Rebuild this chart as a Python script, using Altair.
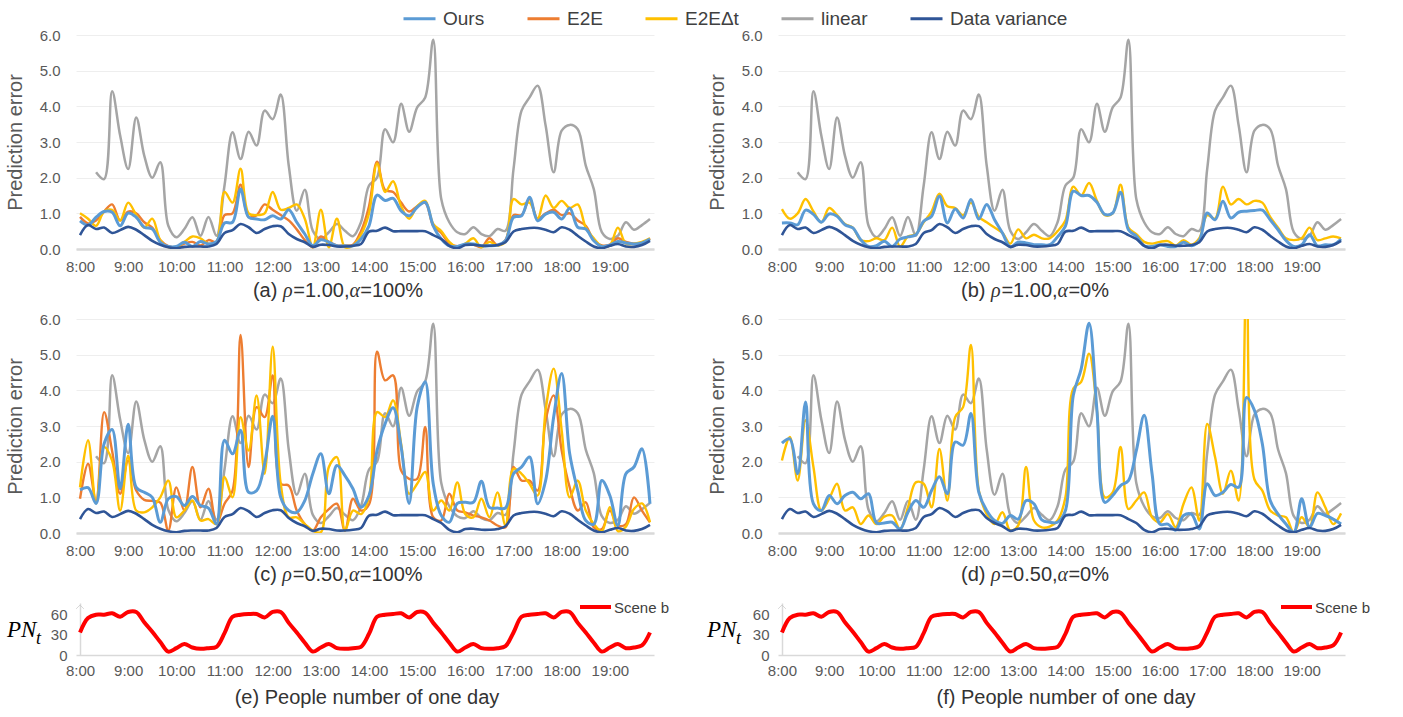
import altair as alt
import pandas as pd

# ---------------------------------------------------------------- data ----
# sample times: minutes after 8:00, every 10 minutes up to 19:50
minutes = list(range(0, 720, 10))
hour_ticks = list(range(0, 720, 60))

# shared by all four error panels
linear = [None, None, 2.15, 1.96, 4.42, 3.18, 2.24, 3.69, 2.62, 2.0, 2.43, 0.65,
          0.33, 0.56, 0.89, 0.37, 0.9, 0.37, 1.78, 3.27, 2.52, 3.29, 2.9, 3.88,
          3.64, 4.33, 2.34, 1.07, 1.66, 0.51, 0.28, 0.47, 0.7, 0.51, 0.36, 0.75,
          1.78, 2.0, 3.36, 2.99, 4.07, 3.29, 3.97, 4.25, 5.87, 1.4, 0.75, 0.47,
          0.42, 0.61, 0.42, 0.36, 0.56, 0.51, 2.24, 3.88, 4.25, 4.58, 3.46, 2.15,
          3.32, 3.48, 3.36, 2.34, 1.68, 0.47, 0.28, 0.37, 0.75, 0.54, 0.67, 0.84]
variance = [0.39, 0.67, 0.56, 0.6, 0.45, 0.53, 0.62, 0.54, 0.39, 0.23, 0.12, 0.05,
            0.02, 0.06, 0.07, 0.07, 0.07, 0.14, 0.45, 0.53, 0.7, 0.61, 0.45, 0.56,
            0.64, 0.64, 0.42, 0.28, 0.19, 0.06, 0.12, 0.11, 0.07, 0.07, 0.09, 0.14,
            0.49, 0.51, 0.6, 0.5, 0.5, 0.5, 0.5, 0.5, 0.39, 0.28, 0.09, 0.02,
            0.11, 0.12, 0.09, 0.09, 0.11, 0.19, 0.49, 0.56, 0.59, 0.59, 0.54, 0.47,
            0.61, 0.54, 0.37, 0.21, 0.07, 0.02, 0.09, 0.14, 0.07, 0.06, 0.11, 0.23]

# (a) rho = 1.00, alpha = 100%
ours_a = [0.79, 0.67, 0.89, 1.05, 1.03, 0.65, 1.01, 0.89, 0.61, 0.56, 0.19, 0.07,
          0.07, 0.19, 0.07, 0.21, 0.14, 0.21, 0.73, 0.75, 1.68, 0.89, 0.84, 0.82,
          0.93, 0.84, 1.1, 0.75, 0.42, 0.09, 0.26, 0.19, 0.09, 0.09, 0.09, 0.28,
          0.65, 1.51, 1.36, 1.42, 1.07, 0.93, 1.17, 1.31, 0.65, 0.28, 0.09, 0.07,
          0.14, 0.14, 0.09, 0.09, 0.11, 0.23, 0.89, 0.93, 1.45, 0.79, 0.98, 1.03,
          0.84, 1.14, 0.61, 0.56, 0.23, 0.07, 0.11, 0.21, 0.17, 0.14, 0.17, 0.28]
e2e_a = [0.9, 0.72, 0.8, 1.05, 1.25, 0.8, 1.05, 1.0, 0.75, 0.6, 0.25, 0.08,
         0.05, 0.15, 0.2, 0.1, 0.25, 0.2, 0.95, 1.0, 1.8, 0.9, 0.95, 1.25,
         1.1, 0.95, 0.8, 0.55, 0.25, 0.05, 0.35, 0.2, 0.1, 0.1, 0.12, 0.5,
         1.2, 2.45, 1.65, 1.6, 1.3, 1.05, 1.2, 1.3, 0.65, 0.45, 0.15, 0.08,
         0.12, 0.12, 0.05, 0.3, 0.1, 0.25, 0.95, 0.95, 1.4, 0.85, 1.0, 1.1,
         0.95, 1.0, 0.8, 0.65, 0.25, 0.1, 0.12, 0.3, 0.2, 0.15, 0.15, 0.3]
e2edt_a = [1.0, 0.85, 0.65, 1.05, 1.1, 0.8, 1.3, 0.95, 0.6, 0.85, 0.25, 0.05,
           0.05, 0.2, 0.35, 0.3, 0.15, 0.2, 1.6, 1.3, 2.25, 1.0, 0.95, 1.0,
           1.6, 1.1, 1.15, 1.25, 0.85, 0.05, 1.1, 0.05, 0.85, 0.05, 0.1, 0.4,
           1.0, 2.4, 1.6, 1.9, 1.2, 0.85, 1.2, 1.35, 0.7, 0.5, 0.2, 0.05,
           0.15, 0.3, 0.05, 0.2, 0.1, 0.2, 1.4, 1.25, 1.3, 0.85, 1.5, 1.15,
           1.35, 1.15, 1.25, 0.6, 0.3, 0.08, 0.1, 0.6, 0.15, 0.15, 0.2, 0.3]

# (b) rho = 1.00, alpha = 0%
ours_b = [0.73, 0.73, 0.68, 1.09, 0.97, 0.75, 0.98, 0.92, 0.68, 0.59, 0.26, 0.07,
          0.09, 0.22, 0.07, 0.28, 0.34, 0.4, 0.78, 0.92, 1.48, 0.73, 1.12, 0.87,
          1.39, 0.84, 1.25, 0.82, 0.45, 0.06, 0.19, 0.17, 0.12, 0.12, 0.12, 0.34,
          0.64, 1.62, 1.5, 1.5, 1.31, 0.97, 1.01, 1.59, 0.54, 0.36, 0.09, 0.07,
          0.12, 0.07, 0.07, 0.19, 0.09, 0.24, 1.01, 0.82, 1.34, 0.87, 1.03, 1.06,
          1.08, 1.09, 0.82, 0.54, 0.24, 0.07, 0.12, 0.4, 0.09, 0.12, 0.12, 0.28]
e2edt_b = [1.12, 0.85, 1.0, 1.4, 1.05, 0.75, 1.15, 0.95, 0.7, 0.6, 0.25, 0.22,
           0.3, 0.25, 0.6, 0.07, 0.35, 0.42, 0.75, 1.05, 1.55, 1.2, 1.15, 0.95,
           1.3, 0.9, 0.75, 0.6, 0.45, 0.15, 0.55, 0.3, 0.4, 0.3, 0.3, 0.5,
           0.8, 1.75, 1.5, 1.85, 1.35, 0.95, 1.0, 1.8, 0.6, 0.42, 0.2, 0.15,
           0.2, 0.22, 0.1, 0.25, 0.12, 0.3, 0.95, 0.85, 1.75, 1.25, 1.4, 1.25,
           1.35, 1.3, 0.9, 0.6, 0.3, 0.25, 0.3, 0.6, 0.25, 0.3, 0.35, 0.3]

# (c) rho = 0.50, alpha = 100%
ours_c = [1.21, 1.27, 0.83, 2.5, 2.9, 1.24, 3.05, 1.28, 1.14, 1.0, 0.3, 0.96,
          1.02, 0.77, 1.02, 0.77, 0.7, 0.25, 2.6, 2.22, 2.88, 1.14, 1.19, 1.94,
          3.27, 1.0, 0.63, 0.58, 0.91, 1.66, 2.22, 1.1, 1.89, 1.61, 1.24, 0.72,
          1.05, 2.31, 3.06, 3.51, 2.41, 0.83, 3.53, 4.24, 1.38, 0.49, 0.3, 0.83,
          0.86, 0.86, 1.45, 0.72, 0.7, 0.7, 1.66, 1.85, 2.13, 0.82, 1.47, 3.25,
          4.47, 2.22, 1.19, 0.35, 0.25, 1.47, 1.05, 0.21, 1.66, 1.85, 2.36, 0.82]
e2e_c = [0.96, 1.94, 0.9, 3.39, 2.3, 1.1, 2.03, 1.19, 0.93, 0.9, 0.85, 0.07,
         1.28, 0.63, 1.85, 0.72, 1.24, 0.25, 0.82, 1.19, 5.55, 1.85, 3.53, 3.25,
         4.42, 1.38, 1.33, 0.63, 0.25, 0.07, 0.44, 0.67, 0.82, 0.07, 0.96, 0.63,
         0.8, 5.08, 4.28, 4.42, 1.75, 1.52, 1.52, 2.97, 0.44, 0.35, 1.1, 0.63,
         0.58, 0.49, 0.44, 0.35, 0.21, 0.16, 1.85, 1.47, 1.47, 1.19, 3.16, 3.86,
         2.31, 1.28, 0.63, 0.86, 0.16, 0.11, 0.63, 0.21, 0.25, 1.0, 0.63, 0.3]
e2edt_c = [1.28, 2.6, 0.83, 2.41, 2.03, 0.63, 2.17, 0.63, 0.58, 0.72, 1.0, 1.47,
           0.44, 0.63, 0.91, 0.35, 0.39, 0.25, 1.57, 1.0, 3.25, 2.31, 3.86, 1.66,
           5.22, 1.38, 0.44, 0.44, 0.25, 0.07, 0.02, 1.85, 2.13, 0.07, 0.63, 0.53,
           1.0, 3.39, 3.25, 3.72, 2.5, 1.1, 1.38, 1.71, 0.63, 0.91, 0.63, 1.42,
           0.53, 0.44, 0.96, 0.44, 1.14, 0.21, 1.8, 1.66, 1.38, 1.05, 3.44, 4.61,
           2.88, 1.0, 1.47, 0.63, 0.25, 0.05, 0.72, 0.05, 0.18, 0.67, 0.83, 0.3]

# (d) rho = 0.50, alpha = 0%
ours_d = [2.52, 2.64, 1.66, 3.67, 0.82, 0.63, 1.05, 0.82, 1.05, 1.14, 0.96, 1.1,
          0.28, 0.28, 0.3, 0.11, 0.58, 0.91, 0.72, 1.19, 1.58, 1.1, 2.55, 2.46,
          3.35, 1.14, 0.63, 0.35, 0.27, 0.49, 0.39, 0.91, 0.82, 0.37, 0.3, 0.3,
          0.63, 3.86, 4.6, 5.88, 3.44, 0.86, 1.05, 1.33, 1.47, 2.31, 3.3, 1.66,
          0.25, 0.25, 0.08, 0.49, 0.53, 0.11, 1.38, 1.05, 1.14, 1.36, 1.28, 3.8,
          3.44, 2.5, 0.91, 0.53, 0.25, 0.02, 0.96, 0.16, 0.55, 0.49, 0.39, 0.25]
e2edt_d = [2.03, 2.69, 1.47, 3.16, 1.85, 0.63, 0.96, 1.38, 0.63, 0.72, 0.25, 0.49,
           0.25, 0.46, 0.49, 0.11, 0.72, 1.42, 1.38, 0.72, 2.36, 0.91, 3.25, 3.53,
           5.27, 1.19, 0.53, 0.25, 0.58, 0.07, 0.21, 1.85, 0.35, 0.16, 0.18, 0.35,
           1.0, 4.05, 4.24, 5.03, 3.44, 1.0, 1.14, 2.41, 0.67, 0.91, 1.14, 0.44,
           0.3, 0.53, 0.16, 0.82, 1.28, 0.35, 3.06, 2.13, 1.1, 1.75, 0.91, 7.2,
           1.5, 1.19, 0.63, 0.49, 0.44, 0.02, 0.44, 0.16, 1.14, 0.72, 0.25, 0.55]

# people number PN_t over the day (scene b)
pn_scene_b = [33, 54, 59, 59, 61, 56, 63, 63, 48, 34, 19, 5, 10, 16, 11, 9, 10, 12,
              32, 56, 59, 60, 60, 55, 63, 63, 47, 33, 18, 5, 11, 16, 10, 9, 10, 12,
              31, 56, 59, 60, 61, 55, 63, 62, 47, 33, 18, 5, 11, 16, 10, 9, 10, 13,
              33, 56, 59, 60, 61, 55, 63, 63, 47, 33, 18, 5, 11, 16, 10, 11, 14, 33]

SERIES = ["Ours", "E2E", "E2EΔt", "linear", "Data variance"]
COLORS = ["#5B9BD5", "#ED7D31", "#FFC000", "#A5A5A5", "#2F5597"]
DRAW_ORDER = ["linear", "E2E", "E2EΔt", "Ours", "Data variance"]
STROKE = {"linear": 2.5, "E2E": 2.4, "E2EΔt": 2.4, "Ours": 3.0, "Data variance": 2.6}

# ------------------------------------------------------------- styling ----
FONT = "Liberation Sans"
SERIF = "Liberation Serif"
AXIS_GREY = "#595959"
LINE_GREY = "#D9D9D9"
TEXT_DARK = "#333333"
LEFT_W, RIGHT_W = 578, 567
PANEL_H = 214
PN_H = 52            # people panel; its value axis tops out a little above 70
PN_TOP = 76.1
PN_SHIFT = 4         # pixels between the panel top and the level of value 70
X_DOMAIN = [-5, 715]
HOUR_LABEL = "(floor(datum.value / 60) + 8) + ':00'"

# advance widths (per 1000 em) of Liberation Sans, used to lay out captions
ADV = {" ": 278, "(": 333, ")": 333, "%": 889, ",": 278, ".": 278, "=": 584,
       "a": 556, "b": 556, "c": 500, "d": 556, "e": 556, "f": 278, "l": 222,
       "m": 833, "n": 556, "o": 556, "p": 556, "r": 333, "u": 556, "y": 500,
       "P": 667, "S": 667, "ρ": 520, "α": 540}
ONE = pd.DataFrame({"k": [0]})


def text_width(s, size):
    return sum(ADV.get(ch, 556) for ch in s) * size / 1000.0


def caption(parts, cx, cy, size=20):
    """Caption made of upright text runs and italic Greek symbols."""
    widths = [text_width(t, size) for t, _ in parts]
    x = cx - sum(widths) / 2.0
    layers = []
    for (t, italic), w in zip(parts, widths):
        layers.append(
            alt.Chart(ONE).mark_text(
                text=t, align="left", baseline="middle", fontSize=size,
                font=SERIF if italic else FONT,
                fontStyle="italic" if italic else "normal", color=TEXT_DARK,
            ).encode(x=alt.value(x), y=alt.value(cy))
        )
        x += w
    return layers


legend = alt.Legend(
    orient="none", legendX=326, legendY=-34, direction="horizontal", columns=5,
    title=None, symbolType="stroke", symbolSize=1024, symbolStrokeWidth=3,
    labelFontSize=19, labelFont=FONT, labelColor="#404040", labelOffset=6,
    columnPadding=36, padding=0, labelLimit=400,
)
color_enc = alt.Color("series:N", scale=alt.Scale(domain=SERIES, range=COLORS),
                      legend=legend)

x_err = alt.X("minute:Q", scale=alt.Scale(domain=X_DOMAIN, nice=False, zero=False),
              axis=alt.Axis(values=hour_ticks, labelExpr=HOUR_LABEL, title=None,
                            grid=False, ticks=False, domain=True,
                            domainColor=LINE_GREY, domainWidth=2.5, labelPadding=10,
                            labelFontSize=15, labelColor=AXIS_GREY, labelFont=FONT))
y_err = alt.Y("value:Q", scale=alt.Scale(domain=[0, 6], nice=False),
              axis=alt.Axis(values=[0, 1, 2, 3, 4, 5, 6], format=".1f",
                            title="Prediction error", titleFontSize=20,
                            titleFontWeight="normal", titleColor=AXIS_GREY,
                            titleFont=FONT, titlePadding=14, grid=True,
                            gridColor="#EEEEEE", domain=False, ticks=False,
                            labelPadding=16, minExtent=37, maxExtent=37,
                            labelFontSize=15, labelColor=AXIS_GREY, labelFont=FONT))


def error_panel(series, width, cap_parts, cap_cx):
    rows = []
    for name in DRAW_ORDER:
        if name not in series:
            continue
        for m, v in zip(minutes, series[name]):
            if v is not None:
                rows.append({"minute": m, "series": name, "value": v})
    df = pd.DataFrame(rows)
    layers = []
    for name in DRAW_ORDER:
        if name not in series:
            continue
        layers.append(
            alt.Chart(df).transform_filter(alt.datum.series == name)
            .mark_line(interpolate="catmull-rom", strokeWidth=STROKE[name], clip=True)
            .encode(x=x_err, y=y_err, color=color_enc)
        )
    layers += caption(cap_parts, cap_cx, PANEL_H + 42)
    return alt.layer(*layers).properties(width=width, height=PANEL_H)


def people_panel(width, cap_text, cap_cx, pn_x, key_x):
    df = pd.DataFrame({"minute": minutes, "people": pn_scene_b})
    x = alt.X("minute:Q", scale=alt.Scale(domain=X_DOMAIN, nice=False, zero=False),
              axis=alt.Axis(values=hour_ticks, labelExpr=HOUR_LABEL, title=None,
                            grid=False, ticks=False, domain=True,
                            domainColor=LINE_GREY, domainWidth=1.5, labelPadding=8,
                            labelFontSize=15, labelColor=AXIS_GREY, labelFont=FONT))
    # the value axis sits on 8:00, a few pixels inside the left edge
    y = alt.Y("people:Q", scale=alt.Scale(domain=[0, PN_TOP], nice=False),
              axis=alt.Axis(values=[0, 30, 60], title=None, grid=False, ticks=False,
                            domain=True, domainColor=LINE_GREY, domainWidth=1.5,
                            offset=-4, labelPadding=13, labelOverlap=False,
                            labelFontSize=15, labelColor=AXIS_GREY, labelFont=FONT))
    base = alt.Chart(ONE)
    arrow = base.mark_point(shape="M-1,1L0,0L1,1", filled=False, size=60,
                            color="#C8C8C8", strokeWidth=1).encode(
        x=alt.value(4), y=alt.value(2))
    line = alt.Chart(df).mark_line(color="#FF0000", strokeWidth=4,
                                   interpolate="catmull-rom").encode(x=x, y=y)
    key_line = base.mark_rule(color="#FF0000", strokeWidth=4).encode(
        x=alt.value(key_x), x2=alt.value(key_x + 31), y=alt.value(PN_SHIFT))
    key_text = base.mark_text(text="Scene b", align="left", baseline="middle",
                              fontSize=15, font=FONT, color="#404040").encode(
        x=alt.value(key_x + 34), y=alt.value(PN_SHIFT + 1))
    pn_main = base.mark_text(text="PN", align="left", baseline="alphabetic",
                             fontSize=23, font=SERIF, fontStyle="italic",
                             color="#000000").encode(x=alt.value(pn_x),
                                                     y=alt.value(PN_SHIFT + 30))
    pn_sub = base.mark_text(text="t", align="left", baseline="alphabetic",
                            fontSize=18, font=SERIF, fontStyle="italic",
                            color="#000000").encode(x=alt.value(pn_x + 29),
                                                    y=alt.value(PN_SHIFT + 37))
    cap = base.mark_text(text=cap_text, align="center", baseline="middle",
                         fontSize=20, font=FONT, color=TEXT_DARK).encode(
        x=alt.value(cap_cx), y=alt.value(PN_H + 43))
    return alt.layer(line, arrow, key_line, key_text, pn_main, pn_sub,
                     cap).properties(width=width, height=PN_H)


def parts(tag, rho, alpha):
    return [(f"({tag}) ", False), ("ρ", True), (f"={rho},", False), ("α", True),
            (f"={alpha}", False)]


panel_a = error_panel({"linear": linear, "E2E": e2e_a, "E2EΔt": e2edt_a, "Ours": ours_a,
                       "Data variance": variance}, LEFT_W, parts("a", "1.00", "100%"), 262)
panel_b = error_panel({"linear": linear, "E2EΔt": e2edt_b, "Ours": ours_b,
                       "Data variance": variance}, RIGHT_W, parts("b", "1.00", "0%"), 257)
panel_c = error_panel({"linear": linear, "E2E": e2e_c, "E2EΔt": e2edt_c, "Ours": ours_c,
                       "Data variance": variance}, LEFT_W, parts("c", "0.50", "100%"), 262)
panel_d = error_panel({"linear": linear, "E2EΔt": e2edt_d, "Ours": ours_d,
                       "Data variance": variance}, RIGHT_W, parts("d", "0.50", "0%"), 257)
panel_e = people_panel(LEFT_W, "(e) People number of one day", 291, -69, 504)
panel_f = people_panel(RIGHT_W, "(f) People number of one day", 288, -71, 503)

chart = (
    alt.concat(panel_a, panel_b, panel_c, panel_d, panel_e, panel_f, columns=2,
               spacing={"row": 70, "column": 124}, bounds="flush")
    .properties(padding={"left": 5, "top": 1, "right": 5, "bottom": 4},
                background="white")
    .configure_view(stroke=None)
)

chart.save("out.html", embed_options={"renderer": "svg", "actions": False})
